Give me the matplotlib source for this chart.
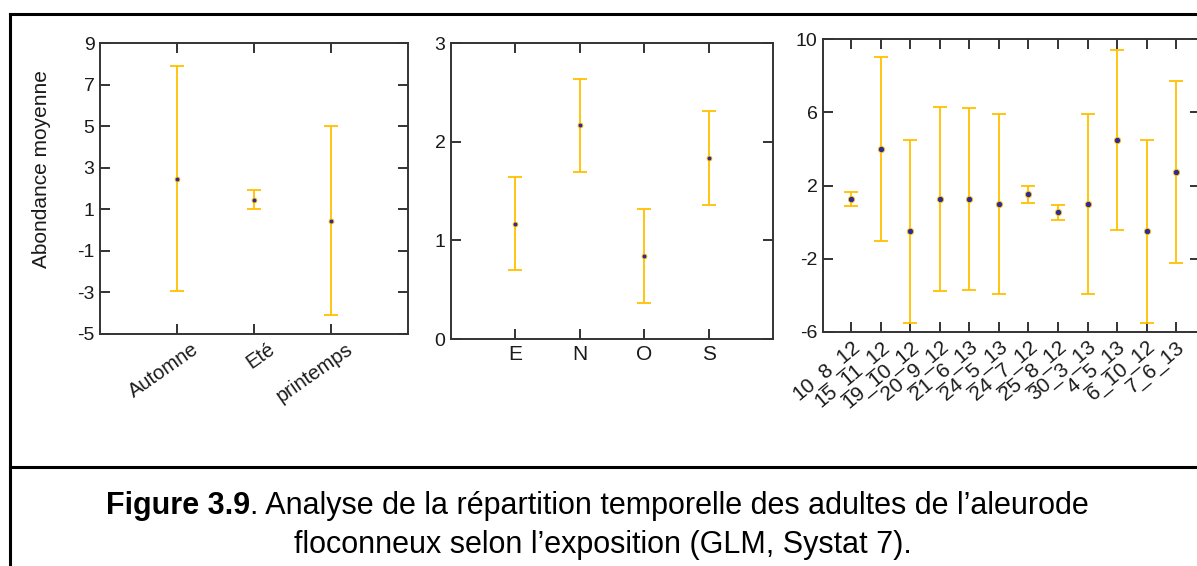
import matplotlib
matplotlib.use("Agg")
import matplotlib.pyplot as plt
from matplotlib.lines import Line2D
from matplotlib.transforms import ScaledTranslation

plt.rcParams['font.family'] = ['Liberation Sans', 'DejaVu Sans']
plt.rcParams['axes.unicode_minus'] = False

# season means and half-widths of the confidence intervals
saisons = ['Automne', 'Eté', 'printemps']
saison_moy = [2.47, 1.47, 0.45]
saison_err = [5.42, 0.46, 4.55]

# exposure
expositions = ['E', 'N', 'O', 'S']
expo_moy = [1.17, 2.165, 0.84, 1.835]
expo_err = [0.475, 0.475, 0.478, 0.48]

# sampling dates
dates = ['10_8_12', '15_11_12', '19_10_12', '20_9_12', '21_6_13', '24_5_13',
         '24_7_12', '25_8_12', '30_3_13', '4_5_13', '6_10_12', '7_6_13']
date_moy = [1.26, 4.0, -0.5, 1.26, 1.26, 1.0, 1.52, 0.53, 1.0, 4.5, -0.5, 2.76]
date_err = [0.4, 5.02, 5.0, 5.03, 4.96, 4.9, 0.45, 0.42, 4.9, 4.92, 5.0, 4.97]

W, H = 1197, 566
ERR_COLOR = '#FFC000'
PT_COLOR = '#2B2B9E'


def px_axes(fig, left, right, top, bottom):
    return fig.add_axes([left / W, 1 - bottom / H, (right - left) / W, (bottom - top) / H])


def style_axes(ax):
    for s in ax.spines.values():
        s.set_color('#333333')
        s.set_linewidth(1.4)
    ax.tick_params(direction='in', length=7, width=1.4, color='#333333',
                   top=True, right=True, labelsize=14, labelcolor='#1a1a1a', pad=4)


def draw_means(ax, x, y, err, ms=3.5):
    ax.errorbar(x, y, yerr=err, fmt='none', ecolor=ERR_COLOR, elinewidth=1.3,
                capsize=5, capthick=1.3)
    ax.plot(x, y, 'o', ms=ms, mfc=PT_COLOR, mec=ERR_COLOR, mew=0.6)


fig = plt.figure(figsize=(W / 100, H / 100), dpi=100)

# 1. saisons
ax1 = px_axes(fig, 100, 408, 43, 334)
pos1 = list(range(1, len(saisons) + 1))
draw_means(ax1, pos1, saison_moy, saison_err)
ax1.set_xlim(0, 4)
ax1.set_ylim(-5, 9)
ax1.set_yticks(range(-5, 10, 2))
ax1.set_xticks(pos1)
style_axes(ax1)
ax1.set_xticklabels(saisons, rotation=35, ha='right', rotation_mode='anchor', fontsize=14.5)
shift = ScaledTranslation(14 / 100, 0, fig.dpi_scale_trans)
for lab in ax1.get_xticklabels():
    lab.set_transform(lab.get_transform() + shift)
ax1.set_ylabel('Abondance moyenne', fontsize=15, color='#1a1a1a')
ax1.yaxis.set_label_coords(-0.16, 0.567)

# 2. exposition
ax2 = px_axes(fig, 451, 773, 43, 339)
pos2 = list(range(1, len(expositions) + 1))
draw_means(ax2, pos2, expo_moy, expo_err)
ax2.set_xlim(0, 5)
ax2.set_ylim(0, 3)
ax2.set_yticks([0, 1, 2, 3])
ax2.set_xticks(pos2)
style_axes(ax2)
ax2.set_xticklabels(expositions, fontsize=15)

# 3. dates de prélèvement
ax3 = px_axes(fig, 823, 1200, 39, 332)
pos3 = list(range(1, len(dates) + 1))
draw_means(ax3, pos3, date_moy, date_err, ms=4.5)
ax3.set_xlim(0.04, 12.81)
ax3.set_ylim(-6, 10)
ax3.set_yticks([-6, -2, 2, 6, 10])
ax3.set_xticks(pos3)
style_axes(ax3)
ax3.set_xticklabels(dates, rotation=40, ha='right', rotation_mode='anchor', fontsize=15)

# frame around figure and caption
lw = 2.2
fig.add_artist(Line2D([10 / W, 1], [1 - 14 / H, 1 - 14 / H], color='black', lw=lw))
fig.add_artist(Line2D([10 / W, 10 / W], [1 - 14 / H, 0], color='black', lw=lw))
fig.add_artist(Line2D([10 / W, 1], [1 - 467 / H, 1 - 467 / H], color='black', lw=lw))

# caption, bold prefix followed by regular text
renderer = fig.canvas.get_renderer()
bold = 'Figure 3.9'
rest = '. Analyse de la répartition temporelle des adultes de l’aleurode'
t_b = fig.text(0, 0, bold, fontsize=22, fontweight='bold')
t_r = fig.text(0, 0, rest, fontsize=22)
wb = t_b.get_window_extent(renderer).width
wr = t_r.get_window_extent(renderer).width
x0 = 597 - (wb + wr) / 2
y1 = 1 - 514 / H
t_b.set_position((x0 / W, y1))
t_b.set_va('baseline')
t_r.set_position(((x0 + wb) / W, y1))
t_r.set_va('baseline')
fig.text(603 / W, 1 - 553 / H, 'floconneux selon l’exposition (GLM, Systat 7).',
         fontsize=22, ha='center', va='baseline')

fig.savefig('out.png', dpi=100)
